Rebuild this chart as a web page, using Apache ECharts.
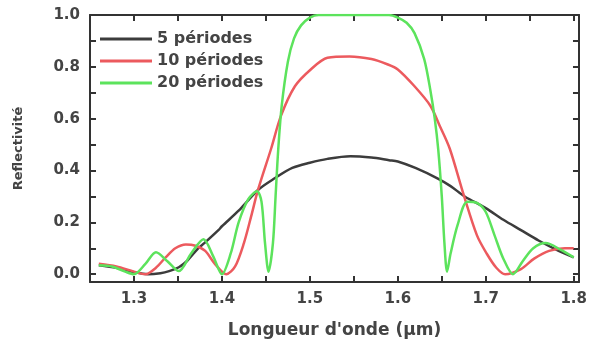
<!DOCTYPE html>
<html>
<head>
<meta charset="utf-8">
<title>Reflectivité</title>
<script src="https://cdn.jsdelivr.net/npm/echarts@6.0.0/dist/echarts.min.js"></script>
<style>
  html, body { margin: 0; padding: 0; background: #fff; }
  #chart { width: 590px; height: 344px; }
</style>
</head>
<body>
<div id="chart"></div>
<script>
// wavelengths (µm) and reflectivity
const lambda5 = [1.26, 1.28, 1.30, 1.316, 1.33, 1.34, 1.351, 1.36, 1.373, 1.38, 1.396, 1.40, 1.419, 1.441, 1.46, 1.48, 1.50, 1.52, 1.546, 1.57, 1.59, 1.60, 1.62, 1.645, 1.66, 1.676, 1.70, 1.72, 1.74, 1.76, 1.78, 1.80];
const refl5   = [0.035, 0.025, 0.008, 0.0, 0.004, 0.012, 0.027, 0.05, 0.10, 0.12, 0.17, 0.185, 0.245, 0.325, 0.37, 0.41, 0.43, 0.445, 0.455, 0.45, 0.44, 0.435, 0.41, 0.37, 0.34, 0.30, 0.255, 0.21, 0.17, 0.13, 0.095, 0.065];

const lambda10 = [1.26, 1.28, 1.30, 1.313, 1.325, 1.336, 1.347, 1.359, 1.37, 1.381, 1.392, 1.405, 1.415, 1.425, 1.433, 1.441, 1.456, 1.467, 1.483, 1.501, 1.52, 1.545, 1.57, 1.588, 1.60, 1.619, 1.637, 1.648, 1.659, 1.675, 1.69, 1.701, 1.712, 1.722, 1.74, 1.755, 1.772, 1.79, 1.80];
const refl10   = [0.04, 0.03, 0.01, 0.0, 0.025, 0.065, 0.10, 0.115, 0.11, 0.09, 0.04, 0.0, 0.03, 0.12, 0.22, 0.325, 0.485, 0.61, 0.725, 0.79, 0.835, 0.84, 0.83, 0.81, 0.79, 0.725, 0.65, 0.57, 0.485, 0.305, 0.15, 0.08, 0.025, 0.0, 0.02, 0.06, 0.09, 0.10, 0.10];

const lambda20 = [1.26, 1.275, 1.29, 1.30, 1.313, 1.325, 1.338, 1.351, 1.365, 1.379, 1.39, 1.40, 1.41, 1.419, 1.43, 1.44, 1.445, 1.449, 1.453, 1.458, 1.461, 1.464, 1.468, 1.475, 1.482, 1.49, 1.50, 1.51, 1.53, 1.56, 1.59, 1.60, 1.61, 1.619, 1.63, 1.637, 1.642, 1.646, 1.65, 1.653, 1.656, 1.66, 1.668, 1.679, 1.69, 1.70, 1.71, 1.72, 1.731, 1.742, 1.754, 1.768, 1.785, 1.80];
const refl20   = [0.035, 0.03, 0.01, 0.0, 0.04, 0.085, 0.05, 0.012, 0.08, 0.135, 0.07, 0.0, 0.08, 0.20, 0.29, 0.32, 0.28, 0.12, 0.01, 0.12, 0.30, 0.48, 0.65, 0.82, 0.91, 0.96, 0.99, 1.0, 1.0, 1.0, 1.0, 0.99, 0.97, 0.93, 0.83, 0.71, 0.60, 0.48, 0.30, 0.12, 0.01, 0.08, 0.19, 0.28, 0.275, 0.24, 0.15, 0.06, 0.0, 0.05, 0.10, 0.12, 0.095, 0.065];

const seriesNames = ['5 périodes', '10 périodes', '20 périodes'];
const seriesColors = ['#3c3c3c', '#ec5a5e', '#5ce35c'];
const xTickLabels = ['1.3', '1.4', '1.5', '1.6', '1.7', '1.8'];
const yTickLabels = ['0.0', '0.2', '0.4', '0.6', '0.8', '1.0'];

const zip = (xs, ys) => xs.map((x, i) => [x, ys[i]]);
const font = 'DejaVu Sans';
const frame = () => ({ show: true, onZero: false, lineStyle: { color: '#333', width: 2 } });
const ticksIn = () => ({ show: true, inside: true, length: 6, lineStyle: { color: '#333', width: 2 } });
const pickLabel = list => v => {
  const s = v.toFixed(1);
  return list.includes(s) && Math.abs(v - parseFloat(s)) < 1e-6 ? s : '';
};

const chart = echarts.init(document.getElementById('chart'));

chart.setOption({
  animation: false,
  backgroundColor: '#fff',
  grid: { left: 90, right: 7, top: 15, bottom: 59 },
  legend: {
    data: seriesNames,
    orient: 'vertical',
    left: 95,
    top: 26,
    icon: 'rect',
    itemWidth: 52,
    itemHeight: 3,
    itemGap: 6,
    textStyle: { fontFamily: font, fontSize: 16, fontWeight: 'bold', color: '#444', lineHeight: 16 }
  },
  xAxis: [
    {
      type: 'value',
      min: 1.25,
      max: 1.806,
      interval: 0.05,
      name: "Longueur d'onde (µm)",
      nameLocation: 'middle',
      nameGap: 40,
      nameTextStyle: { fontFamily: font, fontSize: 17, fontWeight: 'bold', color: '#444' },
      axisLine: frame(),
      axisTick: ticksIn(),
      splitLine: { show: false },
      axisLabel: {
        margin: 10,
        fontFamily: font,
        fontSize: 15,
        fontWeight: 'bold',
        color: '#444',
        formatter: pickLabel(xTickLabels)
      }
    },
    {
      type: 'value',
      position: 'top',
      min: 1.25,
      max: 1.806,
      interval: 0.05,
      axisLine: frame(),
      axisTick: ticksIn(),
      axisLabel: { show: false },
      splitLine: { show: false }
    }
  ],
  yAxis: [
    {
      type: 'value',
      min: -0.03,
      max: 1.0,
      splitNumber: 10,
      name: 'Reflectivité',
      nameLocation: 'middle',
      nameGap: 65,
      nameTextStyle: { fontFamily: font, fontSize: 13, fontWeight: 'bold', color: '#444' },
      axisLine: frame(),
      axisTick: ticksIn(),
      splitLine: { show: false },
      axisLabel: {
        margin: 10,
        fontFamily: font,
        fontSize: 15,
        fontWeight: 'bold',
        color: '#444',
        formatter: pickLabel(yTickLabels)
      }
    },
    {
      type: 'value',
      position: 'right',
      min: -0.03,
      max: 1.0,
      splitNumber: 10,
      axisLine: frame(),
      axisTick: ticksIn(),
      axisLabel: { show: false },
      splitLine: { show: false }
    }
  ],
  series: [
    { name: seriesNames[0], data: zip(lambda5, refl5) },
    { name: seriesNames[1], data: zip(lambda10, refl10) },
    { name: seriesNames[2], data: zip(lambda20, refl20) }
  ].map((s, i) => ({
    ...s,
    type: 'line',
    symbol: 'none',
    smooth: 0.3,
    lineStyle: { color: seriesColors[i], width: 2.5 },
    itemStyle: { color: seriesColors[i] }
  }))
});
</script>
</body>
</html>
